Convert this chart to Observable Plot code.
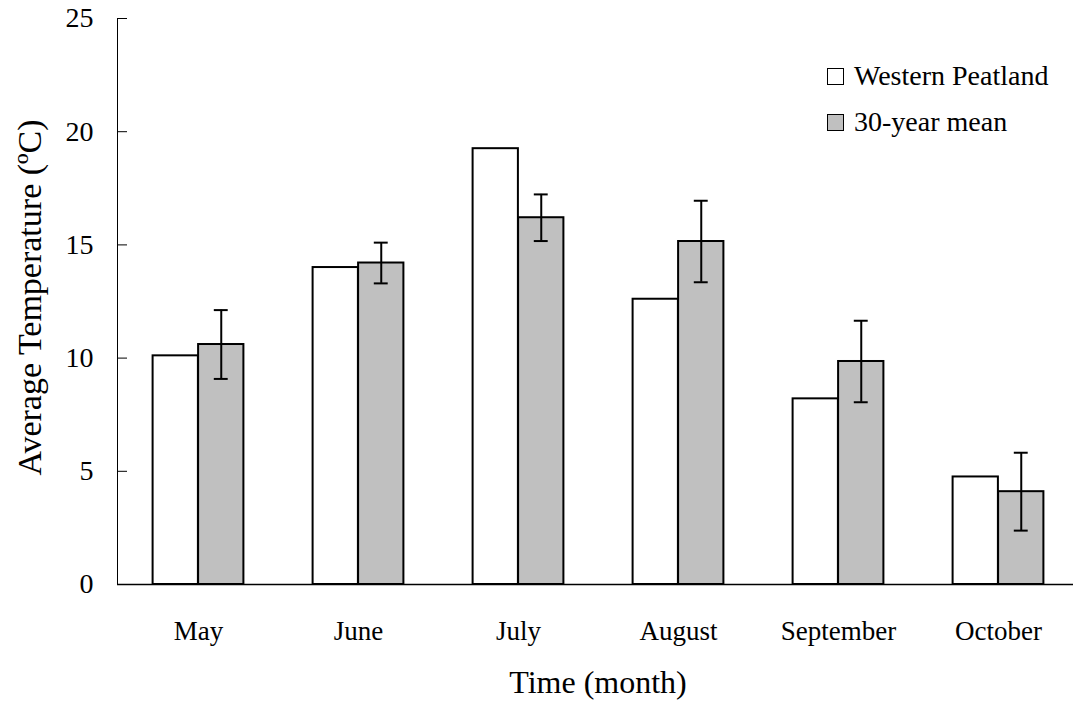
<!DOCTYPE html>
<html>
<head>
<meta charset="utf-8">
<script src="https://cdn.jsdelivr.net/npm/d3@7"></script>
<script src="https://cdn.jsdelivr.net/npm/@observablehq/plot@0.6"></script>
<style>
  html, body { margin: 0; padding: 0; background: white; }
  #chart { position: relative; width: 1073px; height: 710px; overflow: hidden; font-family: "Liberation Serif", "Times New Roman", serif; }
  #chart svg g[aria-label^="y-axis"] text { font-size: 28px !important; }
  .legend { position: absolute; left: 827px; top: 53px; font-size: 28px; color: black; }
  .legend .row { display: flex; align-items: center; height: 46px; }
  .legend .sw { width: 15px; height: 15px; border: 1.5px solid black; margin-right: 10px; box-sizing: content-box; }
</style>
</head>
<body>
<div id="chart"></div>
<script>
// Monthly average temperature: this season vs. the 30-year normal
const months = ["May", "June", "July", "August", "September", "October"];
const seriesNames = ["Western Peatland", "30-year mean"];
const peatland = [10.1, 14.0, 19.25, 12.6, 8.2, 4.75];
const mean30 = [10.6, 14.2, 16.2, 15.15, 9.85, 4.1];
const mean30Err = [1.52, 0.9, 1.03, 1.8, 1.8, 1.72];
const yTicks = [0, 5, 10, 15, 20, 25];
const yTitle = "Average Temperature (ºC)";
const xTitle = "Time (month)";
const seriesFills = ["white", "#c0c0c0"];

const peatRows = months.map((m, i) => ({month: m, value: peatland[i]}));
const meanRows = months.map((m, i) => ({month: m, value: mean30[i], err: mean30Err[i]}));

const chart = Plot.plot({
  width: 1073,
  height: 710,
  marginLeft: 117,
  marginTop: 18,
  marginBottom: 126,
  marginRight: -5,
  style: {fontFamily: "Liberation Serif", fontSize: "28px", color: "black", background: "white"},
  x: {domain: months, padding: 0},
  y: {domain: [0, 25], ticks: yTicks, tickSize: -10, tickPadding: 34, line: true, label: null, tickFormat: d => d},
  marks: [
    Plot.axisX({tickSize: 0, tickPadding: 36, fontSize: 27, label: null}),
    // paired bars inside each month band
    Plot.barY(peatRows, {x: "month", y: "value", fill: seriesFills[0], stroke: "black", strokeWidth: 2, insetLeft: 34.6, insetRight: 80.1}),
    Plot.barY(meanRows, {x: "month", y: "value", fill: seriesFills[1], stroke: "black", strokeWidth: 2, insetLeft: 80.1, insetRight: 34.6}),
    // error bars on the 30-year mean
    Plot.ruleX(meanRows, {x: "month", y1: d => d.value - d.err, y2: d => d.value + d.err, dx: 22.75, stroke: "black", strokeWidth: 2}),
    Plot.tickY(meanRows, {x: "month", y: d => d.value + d.err, insetLeft: 95.8, insetRight: 50.3, stroke: "black", strokeWidth: 2}),
    Plot.tickY(meanRows, {x: "month", y: d => d.value - d.err, insetLeft: 95.8, insetRight: 50.3, stroke: "black", strokeWidth: 2}),
    Plot.ruleY([0], {stroke: "black", strokeWidth: 1.5}),
    Plot.text([yTitle], {frameAnchor: "left", textAnchor: "middle", rotate: -90, dx: -87, dy: -4, fontSize: 34, fill: "black"}),
    Plot.text([xTitle], {frameAnchor: "bottom", dy: 108, fontSize: 32, fill: "black"})
  ]
});

const root = document.getElementById("chart");
root.appendChild(chart);

// legend in the upper right of the plot area
const legend = document.createElement("div");
legend.className = "legend";
seriesNames.forEach((name, i) => {
  const row = document.createElement("div");
  row.className = "row";
  const sw = document.createElement("span");
  sw.className = "sw";
  sw.style.background = seriesFills[i];
  const label = document.createElement("span");
  label.textContent = name;
  row.appendChild(sw);
  row.appendChild(label);
  legend.appendChild(row);
});
root.appendChild(legend);
</script>
</body>
</html>
